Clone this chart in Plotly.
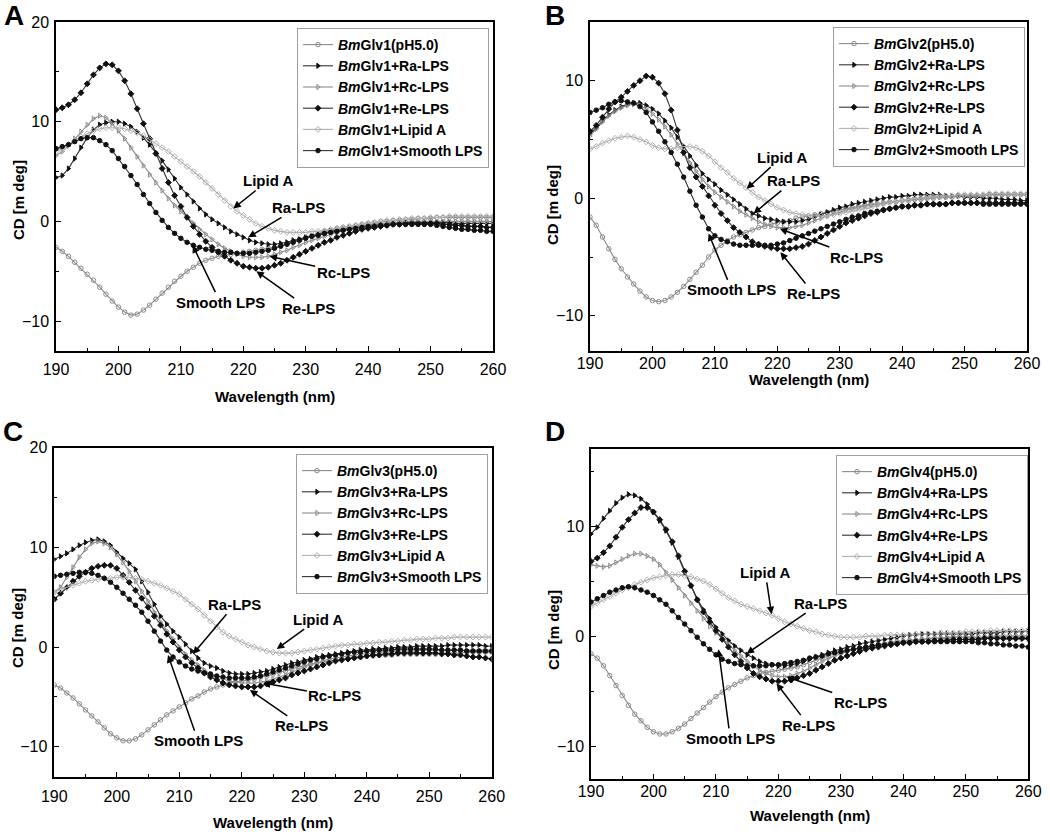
import plotly.graph_objects as go

wavelength = list(range(190, 261))
legend_suffix = ["(pH5.0)", "+Ra-LPS", "+Rc-LPS", "+Re-LPS", "+Lipid A", "+Smooth LPS"]
protein = ["Glv1", "Glv2", "Glv3", "Glv4"]
panel_letters = ["A", "B", "C", "D"]

# ---------------- Panel A ----------------
A_ph = [-2.6,-3.0,-3.5,-4.1,-4.7,-5.3,-5.9,-6.6,-7.3,-8.0,
        -8.6,-9.1,-9.4,-9.3,-8.9,-8.4,-7.8,-7.2,-6.6,-6.0,
        -5.5,-5.0,-4.6,-4.2,-3.9,-3.7,-3.5,-3.4,-3.3,-3.2,
        -3.1,-3.0,-2.9,-2.8,-2.7,-2.6,-2.4,-2.2,-2.0,-1.8,
        -1.6,-1.4,-1.2,-1.0,-0.9,-0.7,-0.6,-0.5,-0.4,-0.3,
        -0.2,-0.1,0.0,0.0,0.1,0.1,0.2,0.2,0.3,0.3,
        0.3,0.4,0.4,0.4,0.4,0.4,0.4,0.4,0.4,0.4,
        0.4]
A_ra = [4.4,4.6,5.3,6.3,7.4,8.4,9.2,9.7,9.9,10.0,
        10.0,9.8,9.5,9.0,8.4,7.7,6.9,6.1,5.2,4.3,
        3.4,2.7,2.0,1.3,0.7,0.2,-0.2,-0.6,-1.0,-1.3,
        -1.6,-1.9,-2.1,-2.2,-2.3,-2.3,-2.2,-2.1,-1.9,-1.8,
        -1.6,-1.5,-1.3,-1.2,-1.0,-0.9,-0.8,-0.7,-0.6,-0.5,
        -0.4,-0.3,-0.3,-0.2,-0.2,-0.2,-0.1,-0.1,-0.1,-0.1,
        -0.1,-0.1,-0.1,-0.1,-0.2,-0.2,-0.2,-0.2,-0.2,-0.2,
        -0.2]
A_rc = [6.6,7.0,7.6,8.3,9.0,9.7,10.3,10.6,10.4,9.8,
        9.1,8.3,7.4,6.5,5.6,4.7,3.9,3.1,2.3,1.6,
        1.0,0.4,-0.2,-0.8,-1.3,-1.8,-2.3,-2.7,-3.0,-3.3,
        -3.5,-3.6,-3.6,-3.6,-3.5,-3.3,-3.1,-2.9,-2.6,-2.4,
        -2.1,-1.9,-1.7,-1.5,-1.3,-1.1,-0.9,-0.8,-0.6,-0.5,
        -0.4,-0.3,-0.2,-0.2,-0.1,-0.1,0.0,0.0,0.0,0.0,
        0.0,0.0,0.0,0.0,0.0,0.0,0.0,0.0,0.0,0.0,
        0.0]
A_re = [11.2,11.4,11.7,12.2,12.9,13.8,14.7,15.4,15.8,15.7,
        15.1,14.1,12.8,11.3,9.8,8.3,6.8,5.3,3.9,2.6,
        1.5,0.4,-0.5,-1.3,-2.0,-2.6,-3.1,-3.5,-3.9,-4.2,
        -4.5,-4.6,-4.7,-4.7,-4.6,-4.4,-4.2,-3.9,-3.6,-3.3,
        -3.0,-2.7,-2.4,-2.1,-1.9,-1.6,-1.4,-1.2,-1.0,-0.8,
        -0.7,-0.6,-0.5,-0.4,-0.3,-0.3,-0.2,-0.2,-0.2,-0.2,
        -0.2,-0.2,-0.3,-0.3,-0.4,-0.4,-0.5,-0.5,-0.5,-0.6,
        -0.6]
A_lip = [7.0,7.3,7.7,8.1,8.5,8.8,9.1,9.3,9.4,9.4,
         9.4,9.3,9.1,8.9,8.6,8.2,7.8,7.4,7.0,6.5,
         6.0,5.5,5.0,4.5,3.9,3.3,2.7,2.1,1.5,1.0,
         0.6,0.2,-0.2,-0.5,-0.7,-0.9,-1.0,-1.1,-1.1,-1.1,
         -1.1,-1.0,-1.0,-0.9,-0.8,-0.7,-0.6,-0.5,-0.4,-0.3,
         -0.2,-0.1,0.0,0.1,0.1,0.2,0.2,0.3,0.3,0.3,
         0.4,0.4,0.4,0.5,0.5,0.5,0.5,0.5,0.5,0.5,
         0.5]
A_sm = [7.3,7.5,7.7,8.0,8.3,8.4,8.4,8.1,7.7,7.1,
        6.3,5.5,4.6,3.7,2.7,1.8,0.9,0.1,-0.6,-1.2,
        -1.7,-2.1,-2.4,-2.6,-2.8,-2.9,-3.0,-3.1,-3.1,-3.2,
        -3.2,-3.2,-3.1,-3.0,-2.9,-2.7,-2.5,-2.3,-2.1,-1.9,
        -1.7,-1.5,-1.4,-1.2,-1.1,-1.0,-0.9,-0.8,-0.7,-0.6,
        -0.5,-0.5,-0.4,-0.4,-0.3,-0.3,-0.3,-0.3,-0.3,-0.3,
        -0.3,-0.4,-0.5,-0.6,-0.7,-0.8,-0.8,-0.9,-0.9,-1.0,
        -1.0]

# ---------------- Panel B ----------------
B_ph = [-1.6,-2.3,-3.3,-4.3,-5.2,-6.0,-6.7,-7.3,-7.9,-8.4,
        -8.7,-8.8,-8.7,-8.4,-8.0,-7.5,-6.9,-6.3,-5.7,-5.0,
        -4.4,-4.0,-3.6,-3.3,-3.1,-2.9,-2.7,-2.5,-2.4,-2.2,
        -2.1,-2.0,-1.9,-1.7,-1.6,-1.5,-1.4,-1.3,-1.2,-1.1,
        -1.0,-0.9,-0.8,-0.7,-0.6,-0.5,-0.5,-0.4,-0.3,-0.3,
        -0.2,-0.2,-0.1,-0.1,0.0,0.0,0.1,0.1,0.1,0.2,
        0.2,0.2,0.2,0.2,0.3,0.3,0.3,0.3,0.3,0.3,
        0.3]
B_ra = [5.5,6.0,6.6,7.1,7.5,7.8,8.0,8.1,8.1,7.9,
        7.6,7.2,6.6,6.0,5.2,4.4,3.6,2.8,2.1,1.6,
        1.2,0.7,0.3,-0.1,-0.5,-0.9,-1.3,-1.5,-1.7,-1.8,
        -1.9,-2.0,-2.0,-2.0,-1.9,-1.8,-1.6,-1.4,-1.2,-1.0,
        -0.8,-0.7,-0.5,-0.4,-0.3,-0.2,-0.1,0.0,0.1,0.1,
        0.2,0.2,0.3,0.3,0.3,0.3,0.3,0.2,0.2,0.2,
        0.1,0.1,0.1,0.0,0.0,0.0,-0.1,-0.1,-0.1,-0.2,
        -0.2]
B_rc = [5.3,5.9,6.5,7.0,7.4,7.7,7.9,8.0,7.9,7.6,
        7.2,6.7,6.1,5.4,4.6,3.8,3.0,2.3,1.6,1.0,
        0.5,0.1,-0.3,-0.7,-1.1,-1.4,-1.7,-2.0,-2.2,-2.4,
        -2.5,-2.5,-2.5,-2.4,-2.3,-2.1,-1.9,-1.7,-1.5,-1.3,
        -1.2,-1.0,-0.9,-0.8,-0.7,-0.6,-0.5,-0.4,-0.3,-0.3,
        -0.2,-0.1,-0.1,0.0,0.0,0.1,0.1,0.1,0.2,0.2,
        0.2,0.2,0.2,0.3,0.3,0.3,0.3,0.3,0.3,0.3,
        0.3]
B_re = [5.7,6.2,6.9,7.6,8.2,8.6,9.1,9.6,10.0,10.4,
        10.3,9.8,8.9,7.5,5.8,3.9,2.6,1.8,1.0,0.2,
        -0.6,-1.3,-1.9,-2.5,-2.9,-3.3,-3.7,-3.9,-4.1,-4.2,
        -4.3,-4.3,-4.3,-4.2,-4.1,-3.9,-3.6,-3.3,-3.0,-2.7,
        -2.4,-2.1,-1.9,-1.7,-1.5,-1.3,-1.2,-1.0,-0.9,-0.8,
        -0.7,-0.7,-0.6,-0.6,-0.5,-0.5,-0.5,-0.5,-0.4,-0.4,
        -0.4,-0.4,-0.4,-0.4,-0.4,-0.4,-0.4,-0.4,-0.4,-0.4,
        -0.4]
B_lip = [4.2,4.4,4.7,4.9,5.1,5.2,5.3,5.2,5.0,4.8,
         4.5,4.3,4.2,4.2,4.3,4.4,4.4,4.3,4.0,3.6,
         3.1,2.6,2.2,1.7,1.3,0.9,0.5,0.1,-0.2,-0.5,
         -0.8,-1.0,-1.2,-1.3,-1.4,-1.5,-1.5,-1.5,-1.5,-1.4,
         -1.3,-1.2,-1.1,-1.0,-0.9,-0.8,-0.6,-0.5,-0.4,-0.3,
         -0.2,-0.1,0.0,0.0,0.1,0.1,0.2,0.2,0.2,0.3,
         0.3,0.3,0.3,0.3,0.4,0.4,0.4,0.4,0.4,0.4,
         0.4]
B_sm = [7.3,7.5,7.7,8.0,8.2,8.3,8.2,8.1,7.8,7.3,
        6.5,5.7,4.8,3.9,2.9,1.8,0.6,-0.6,-1.6,-2.6,
        -3.2,-3.5,-3.7,-3.9,-4.0,-4.0,-4.0,-4.0,-4.0,-4.0,
        -3.9,-3.8,-3.6,-3.4,-3.2,-3.0,-2.8,-2.6,-2.4,-2.2,
        -2.0,-1.8,-1.6,-1.5,-1.3,-1.2,-1.1,-1.0,-0.9,-0.8,
        -0.7,-0.7,-0.6,-0.6,-0.5,-0.5,-0.5,-0.5,-0.4,-0.4,
        -0.4,-0.4,-0.4,-0.5,-0.5,-0.5,-0.5,-0.5,-0.5,-0.5,
        -0.5]

# ---------------- Panel C ----------------
C_ph = [-3.8,-4.1,-4.6,-5.1,-5.7,-6.3,-6.9,-7.5,-8.1,-8.7,
        -9.1,-9.4,-9.4,-9.2,-8.8,-8.3,-7.8,-7.3,-6.8,-6.4,
        -6.0,-5.6,-5.2,-4.9,-4.5,-4.2,-4.0,-3.8,-3.6,-3.5,
        -3.4,-3.3,-3.2,-3.0,-2.9,-2.7,-2.5,-2.4,-2.2,-2.0,
        -1.9,-1.7,-1.6,-1.5,-1.4,-1.3,-1.2,-1.1,-1.0,-1.0,
        -0.9,-0.9,-0.8,-0.8,-0.8,-0.7,-0.7,-0.7,-0.7,-0.7,
        -0.7,-0.7,-0.6,-0.6,-0.6,-0.6,-0.5,-0.5,-0.5,-0.5,
        -0.5]
C_ra = [8.8,9.1,9.4,9.8,10.2,10.5,10.7,10.8,10.6,10.2,
        9.5,8.9,8.4,7.8,6.6,5.5,4.3,3.1,2.3,1.6,
        1.0,0.3,-0.4,-1.1,-1.6,-1.9,-2.1,-2.4,-2.6,-2.7,
        -2.7,-2.7,-2.6,-2.5,-2.4,-2.2,-2.0,-1.8,-1.6,-1.5,
        -1.3,-1.2,-1.0,-0.9,-0.8,-0.7,-0.6,-0.5,-0.4,-0.3,
        -0.3,-0.2,-0.2,-0.1,-0.1,0.0,0.0,0.0,0.1,0.1,
        0.1,0.1,0.1,0.2,0.2,0.2,0.2,0.2,0.2,0.1,
        0.1]
C_rc = [5.5,6.0,7.0,8.0,9.0,9.8,10.4,10.6,10.4,10.0,
        9.3,8.5,7.6,6.6,5.6,4.6,3.5,2.5,1.6,0.8,
        0.0,-0.7,-1.3,-1.8,-2.3,-2.7,-3.0,-3.2,-3.4,-3.5,
        -3.6,-3.6,-3.6,-3.5,-3.4,-3.2,-3.0,-2.8,-2.5,-2.3,
        -2.0,-1.8,-1.6,-1.4,-1.2,-1.1,-1.0,-0.9,-0.8,-0.7,
        -0.7,-0.6,-0.5,-0.5,-0.5,-0.4,-0.4,-0.4,-0.4,-0.3,
        -0.3,-0.3,-0.3,-0.3,-0.3,-0.3,-0.3,-0.3,-0.3,-0.3,
        -0.3]
C_re = [4.8,5.4,6.0,6.6,7.1,7.5,7.9,8.1,8.2,8.2,
        7.9,7.2,6.5,5.7,4.9,4.0,3.1,2.2,1.3,0.5,
        -0.3,-1.0,-1.6,-2.1,-2.6,-3.0,-3.3,-3.6,-3.8,-3.9,
        -4.0,-4.0,-4.0,-3.9,-3.7,-3.5,-3.3,-3.1,-2.8,-2.6,
        -2.4,-2.2,-2.0,-1.8,-1.6,-1.4,-1.3,-1.2,-1.1,-1.0,
        -0.9,-0.8,-0.8,-0.7,-0.7,-0.6,-0.6,-0.6,-0.6,-0.6,
        -0.6,-0.6,-0.7,-0.7,-0.8,-0.8,-0.9,-1.0,-1.0,-1.1,
        -1.2]
C_lip = [5.5,5.8,6.0,6.2,6.4,6.6,6.7,6.8,6.9,6.9,
         7.0,7.0,7.0,6.9,6.8,6.6,6.4,6.2,5.9,5.6,
         5.3,4.8,4.3,3.8,3.2,2.6,2.0,1.5,1.1,0.8,
         0.5,0.2,0.0,-0.2,-0.4,-0.5,-0.6,-0.6,-0.6,-0.5,
         -0.4,-0.3,-0.2,-0.1,0.0,0.1,0.2,0.2,0.3,0.3,
         0.4,0.4,0.5,0.5,0.6,0.6,0.7,0.7,0.8,0.8,
         0.8,0.9,0.9,0.9,1.0,1.0,1.0,1.0,1.0,1.0,
         1.0]
C_sm = [7.1,7.2,7.3,7.4,7.5,7.5,7.4,7.2,6.9,6.5,
        6.0,5.4,4.8,4.2,3.5,2.6,1.6,0.6,-0.3,-1.0,
        -1.5,-1.9,-2.2,-2.4,-2.6,-2.7,-2.9,-3.0,-3.1,-3.1,
        -3.1,-3.1,-3.0,-2.9,-2.7,-2.5,-2.3,-2.1,-1.9,-1.7,
        -1.5,-1.3,-1.2,-1.0,-0.9,-0.8,-0.7,-0.6,-0.5,-0.5,
        -0.4,-0.4,-0.3,-0.3,-0.3,-0.2,-0.2,-0.2,-0.2,-0.2,
        -0.2,-0.2,-0.3,-0.3,-0.3,-0.3,-0.4,-0.4,-0.4,-0.4,
        -0.4]

# ---------------- Panel D ----------------
D_ph = [-1.6,-2.0,-2.7,-3.6,-4.5,-5.4,-6.3,-7.1,-7.7,-8.3,
        -8.7,-8.9,-8.9,-8.7,-8.4,-8.0,-7.5,-7.0,-6.5,-6.0,
        -5.5,-5.1,-4.7,-4.4,-4.1,-3.8,-3.6,-3.4,-3.3,-3.2,
        -3.1,-3.0,-2.9,-2.8,-2.6,-2.4,-2.2,-2.0,-1.8,-1.6,
        -1.5,-1.3,-1.2,-1.1,-1.0,-0.9,-0.8,-0.7,-0.6,-0.5,
        -0.5,-0.4,-0.4,-0.3,-0.3,-0.2,-0.2,-0.2,-0.1,-0.1,
        -0.1,-0.1,-0.1,-0.1,0.0,0.0,0.0,0.0,0.0,0.0,
        0.0]
D_ra = [9.3,9.9,10.7,11.4,12.1,12.6,12.9,12.8,12.5,12.0,
        11.3,10.5,9.6,8.5,7.2,5.8,4.6,3.4,2.4,1.6,
        0.8,0.2,-0.4,-0.9,-1.3,-1.7,-2.0,-2.3,-2.5,-2.6,
        -2.7,-2.7,-2.6,-2.5,-2.3,-2.1,-1.9,-1.7,-1.5,-1.3,
        -1.2,-1.0,-0.9,-0.7,-0.6,-0.5,-0.4,-0.3,-0.2,-0.1,
        0.0,0.1,0.1,0.2,0.2,0.2,0.2,0.2,0.2,0.2,
        0.2,0.2,0.3,0.3,0.3,0.3,0.4,0.4,0.4,0.4,
        0.5]
D_rc = [6.5,6.4,6.3,6.4,6.7,7.0,7.3,7.5,7.5,7.3,
        7.0,6.5,5.8,5.1,4.4,3.7,3.0,2.3,1.6,0.9,
        0.3,-0.2,-0.7,-1.3,-1.8,-2.3,-2.7,-3.1,-3.4,-3.6,
        -3.7,-3.7,-3.6,-3.4,-3.2,-2.9,-2.6,-2.3,-2.0,-1.8,
        -1.6,-1.4,-1.2,-1.1,-1.0,-0.9,-0.8,-0.7,-0.6,-0.5,
        -0.4,-0.4,-0.3,-0.3,-0.2,-0.2,-0.2,-0.1,-0.1,-0.1,
        -0.1,-0.1,-0.2,-0.2,-0.2,-0.2,-0.3,-0.3,-0.3,-0.3,
        -0.3]
D_re = [6.8,7.1,7.6,8.2,9.0,9.9,10.6,11.2,11.7,11.7,
        11.3,10.6,9.7,8.6,7.3,5.9,4.6,3.3,2.2,1.3,
        0.5,-0.3,-1.0,-1.7,-2.3,-2.9,-3.4,-3.7,-3.9,-4.1,
        -4.1,-4.1,-4.0,-3.8,-3.6,-3.4,-3.1,-2.8,-2.5,-2.2,
        -2.0,-1.8,-1.6,-1.4,-1.2,-1.1,-1.0,-0.9,-0.8,-0.7,
        -0.6,-0.6,-0.5,-0.5,-0.5,-0.4,-0.4,-0.4,-0.3,-0.3,
        -0.3,-0.3,-0.3,-0.2,-0.2,-0.2,-0.2,-0.2,-0.2,-0.2,
        -0.2]
D_lip = [2.7,3.0,3.3,3.6,3.9,4.2,4.4,4.7,4.9,5.1,
         5.3,5.4,5.5,5.6,5.6,5.5,5.4,5.2,5.0,4.7,
         4.3,3.9,3.5,3.2,2.9,2.7,2.5,2.3,2.1,1.9,
         1.6,1.3,1.1,0.9,0.7,0.5,0.4,0.2,0.1,0.0,
         -0.1,-0.1,-0.1,-0.1,0.0,0.0,0.0,0.1,0.1,0.1,
         0.1,0.1,0.2,0.2,0.2,0.2,0.3,0.3,0.3,0.3,
         0.4,0.4,0.4,0.4,0.5,0.5,0.5,0.5,0.5,0.5,
         0.5]
D_sm = [3.1,3.4,3.7,4.0,4.2,4.4,4.5,4.4,4.2,4.0,
        3.7,3.3,2.9,2.3,1.7,1.1,0.5,-0.1,-0.7,-1.2,
        -1.7,-2.1,-2.3,-2.5,-2.6,-2.7,-2.7,-2.7,-2.7,-2.6,
        -2.6,-2.5,-2.4,-2.3,-2.2,-2.0,-1.9,-1.8,-1.6,-1.5,
        -1.4,-1.3,-1.2,-1.1,-1.0,-0.9,-0.8,-0.8,-0.7,-0.7,
        -0.6,-0.6,-0.5,-0.5,-0.5,-0.5,-0.5,-0.5,-0.5,-0.5,
        -0.5,-0.5,-0.6,-0.6,-0.7,-0.7,-0.8,-0.8,-0.9,-0.9,
        -1.0]

panels = [
    [A_ph, A_ra, A_rc, A_re, A_lip, A_sm],
    [B_ph, B_ra, B_rc, B_re, B_lip, B_sm],
    [C_ph, C_ra, C_rc, C_re, C_lip, C_sm],
    [D_ph, D_ra, D_rc, D_re, D_lip, D_sm],
]

# --------------- styles -----------------
GRAY = "#8c8c8c"
LGRAY = "#b0b0b0"
DARK = "#333333"
styles = [
    dict(line=GRAY, symbol="circle-open", mcolor=GRAY),
    dict(line=DARK, symbol="triangle-right", mcolor="#111111"),
    dict(line=GRAY, symbol="triangle-right-open", mcolor=GRAY),
    dict(line=DARK, symbol="diamond", mcolor="#111111"),
    dict(line=LGRAY, symbol="diamond-open", mcolor=LGRAY),
    dict(line=DARK, symbol="circle", mcolor="#111111"),
]

W, H = 1050, 835
def px(x):
    return x / W
def py(y):
    return 1 - y / H

x_domains = [[56, 493], [590, 1027], [54.3, 491.7], [591, 1028.3]]
y_domains = [[22, 351], [22, 351], [447.7, 776.7], [449.3, 779]]
y_ranges = [[-13, 20], [-13, 15], [-13, 20], [-13, 17]]
x_label_standoff = [3, -3, 4, -3]
legend_pos = [(489, 28), (1025, 27), (488, 454), (1028, 455)]
xtitle_pos = [(274.5, 396), (808.5, 379), (273, 822), (809.7, 815)]
ytitle_pos = [(18, 200), (552, 205), (17, 628), (553, 630)]
letter_pos = [(14, 16), (555, 16), (13, 431), (555, 431)]

FONT = "Liberation Sans, Arial, sans-serif"

fig = go.Figure()
for p in range(4):
    ax = "" if p == 0 else str(p + 1)
    leg = "legend" if p == 0 else "legend" + str(p + 1)
    for s in range(6):
        st = styles[s]
        fig.add_trace(go.Scatter(
            x=wavelength, y=panels[p][s],
            mode="lines+markers",
            name="<b><i>Bm</i>" + protein[p] + legend_suffix[s] + "</b>",
            line=dict(color=st["line"], width=1.1),
            marker=dict(symbol=st["symbol"], size=4.5, color=st["mcolor"],
                        line=dict(width=1, color=st["mcolor"])),
            xaxis="x" + ax, yaxis="y" + ax, legend=leg,
        ))

layout = dict(
    width=W, height=H,
    margin=dict(l=0, r=0, t=0, b=0, pad=0, autoexpand=False),
    paper_bgcolor="white", plot_bgcolor="white",
    font=dict(family=FONT, color="black", size=15),
    showlegend=True,
)

for p in range(4):
    ax = "" if p == 0 else str(p + 1)
    xd = [px(x_domains[p][0]), px(x_domains[p][1])]
    yd = [py(y_domains[p][1]), py(y_domains[p][0])]
    layout["xaxis" + ax] = dict(
        domain=xd, range=[190, 260], anchor="y" + ax, automargin=False,
        tickmode="array", tickvals=[190, 200, 210, 220, 230, 240, 250, 260],
        ticks="inside", ticklen=5, tickwidth=1, tickcolor="black",
        minor=dict(tickvals=[195, 205, 215, 225, 235, 245, 255], ticks="inside",
                   ticklen=3, tickwidth=1, tickcolor="black"),
        showline=True, linecolor="black", linewidth=1.5, mirror=True,
        showgrid=False, zeroline=False, ticklabelstandoff=x_label_standoff[p],
        tickfont=dict(size=16, family=FONT, color="black"),
    )
    layout["yaxis" + ax] = dict(
        domain=yd, range=y_ranges[p], anchor="x" + ax, automargin=False,
        tickmode="array", tickvals=[-10, 0, 10, 20],
        ticks="inside", ticklen=5, tickwidth=1, tickcolor="black",
        minor=dict(tickvals=[-5, 5, 15], ticks="inside",
                   ticklen=3, tickwidth=1, tickcolor="black"),
        showline=True, linecolor="black", linewidth=1.5, mirror=True,
        showgrid=False, zeroline=False, ticklabelstandoff=2,
        tickfont=dict(size=16, family=FONT, color="black"),
    )
    leg = "legend" if p == 0 else "legend" + str(p + 1)
    layout[leg] = dict(
        x=px(legend_pos[p][0]), y=py(legend_pos[p][1]),
        xanchor="right", yanchor="top",
        bgcolor="white", bordercolor="#a0a0a0", borderwidth=1,
        font=dict(size=14, family=FONT, color="black"),
        itemwidth=30, tracegroupgap=0,
    )

annotations = []
for p in range(4):
    annotations.append(dict(
        text="<b>Wavelength (nm)</b>", x=px(xtitle_pos[p][0]), y=py(xtitle_pos[p][1]),
        xref="paper", yref="paper", showarrow=False, font=dict(size=15),
        xanchor="center", yanchor="middle"))
    annotations.append(dict(
        text="<b>CD [m deg]</b>", x=px(ytitle_pos[p][0]), y=py(ytitle_pos[p][1]),
        xref="paper", yref="paper", showarrow=False, font=dict(size=15),
        textangle=-90, xanchor="center", yanchor="middle"))
    annotations.append(dict(
        text="<b>" + panel_letters[p] + "</b>", x=px(letter_pos[p][0]), y=py(letter_pos[p][1]),
        xref="paper", yref="paper", showarrow=False, font=dict(size=28),
        xanchor="center", yanchor="middle"))

# arrow labels: (text, tip_x, tip_y, label_x, label_y)
callouts = [
    [("Lipid A", 218.4, 1.3, 224.0, 4.1), ("Ra-LPS", 220.8, -1.6, 228.8, 1.4),
     ("Rc-LPS", 224.2, -3.5, 236.0, -5.1), ("Re-LPS", 222.1, -5.0, 230.4, -8.7),
     ("Smooth LPS", 211.9, -2.4, 216.3, -8.1)],
    [("Lipid A", 215.1, 0.8, 220.7, 3.5), ("Ra-LPS", 216.2, -1.3, 222.6, 1.5),
     ("Rc-LPS", 220.4, -2.6, 232.7, -5.0), ("Re-LPS", 220.5, -4.6, 225.8, -8.1),
     ("Smooth LPS", 209.0, -3.0, 212.7, -7.8)],
    [("Ra-LPS", 212.2, -0.7, 218.9, 4.3), ("Lipid A", 225.6, -0.2, 232.2, 2.8),
     ("Rc-LPS", 223.4, -3.6, 234.9, -4.9), ("Re-LPS", 221.3, -4.3, 229.6, -7.9),
     ("Smooth LPS", 208.2, -0.8, 213.0, -9.4)],
    [("Lipid A", 218.9, 2.0, 217.9, 5.8), ("Ra-LPS", 214.9, -1.6, 226.7, 3.0),
     ("Rc-LPS", 221.3, -3.7, 233.1, -6.0), ("Re-LPS", 219.7, -4.3, 224.8, -8.1),
     ("Smooth LPS", 210.4, -1.2, 212.3, -9.3)],
]
for p in range(4):
    ax = "" if p == 0 else str(p + 1)
    for (t, tx, ty, lx, ly) in callouts[p]:
        annotations.append(dict(
            text="<b>" + t + "</b>", x=tx, y=ty, ax=lx, ay=ly,
            xref="x" + ax, yref="y" + ax, axref="x" + ax, ayref="y" + ax,
            showarrow=True, arrowhead=2, arrowsize=1, arrowwidth=1.5,
            arrowcolor="black", standoff=0, font=dict(size=15, color="black")))

layout["annotations"] = annotations
fig.update_layout(**layout)
fig.write_html(
    "out.html",
    config={"displayModeBar": False},
    post_script="document.body.style.margin='0px';document.body.style.overflow='hidden';",
)
